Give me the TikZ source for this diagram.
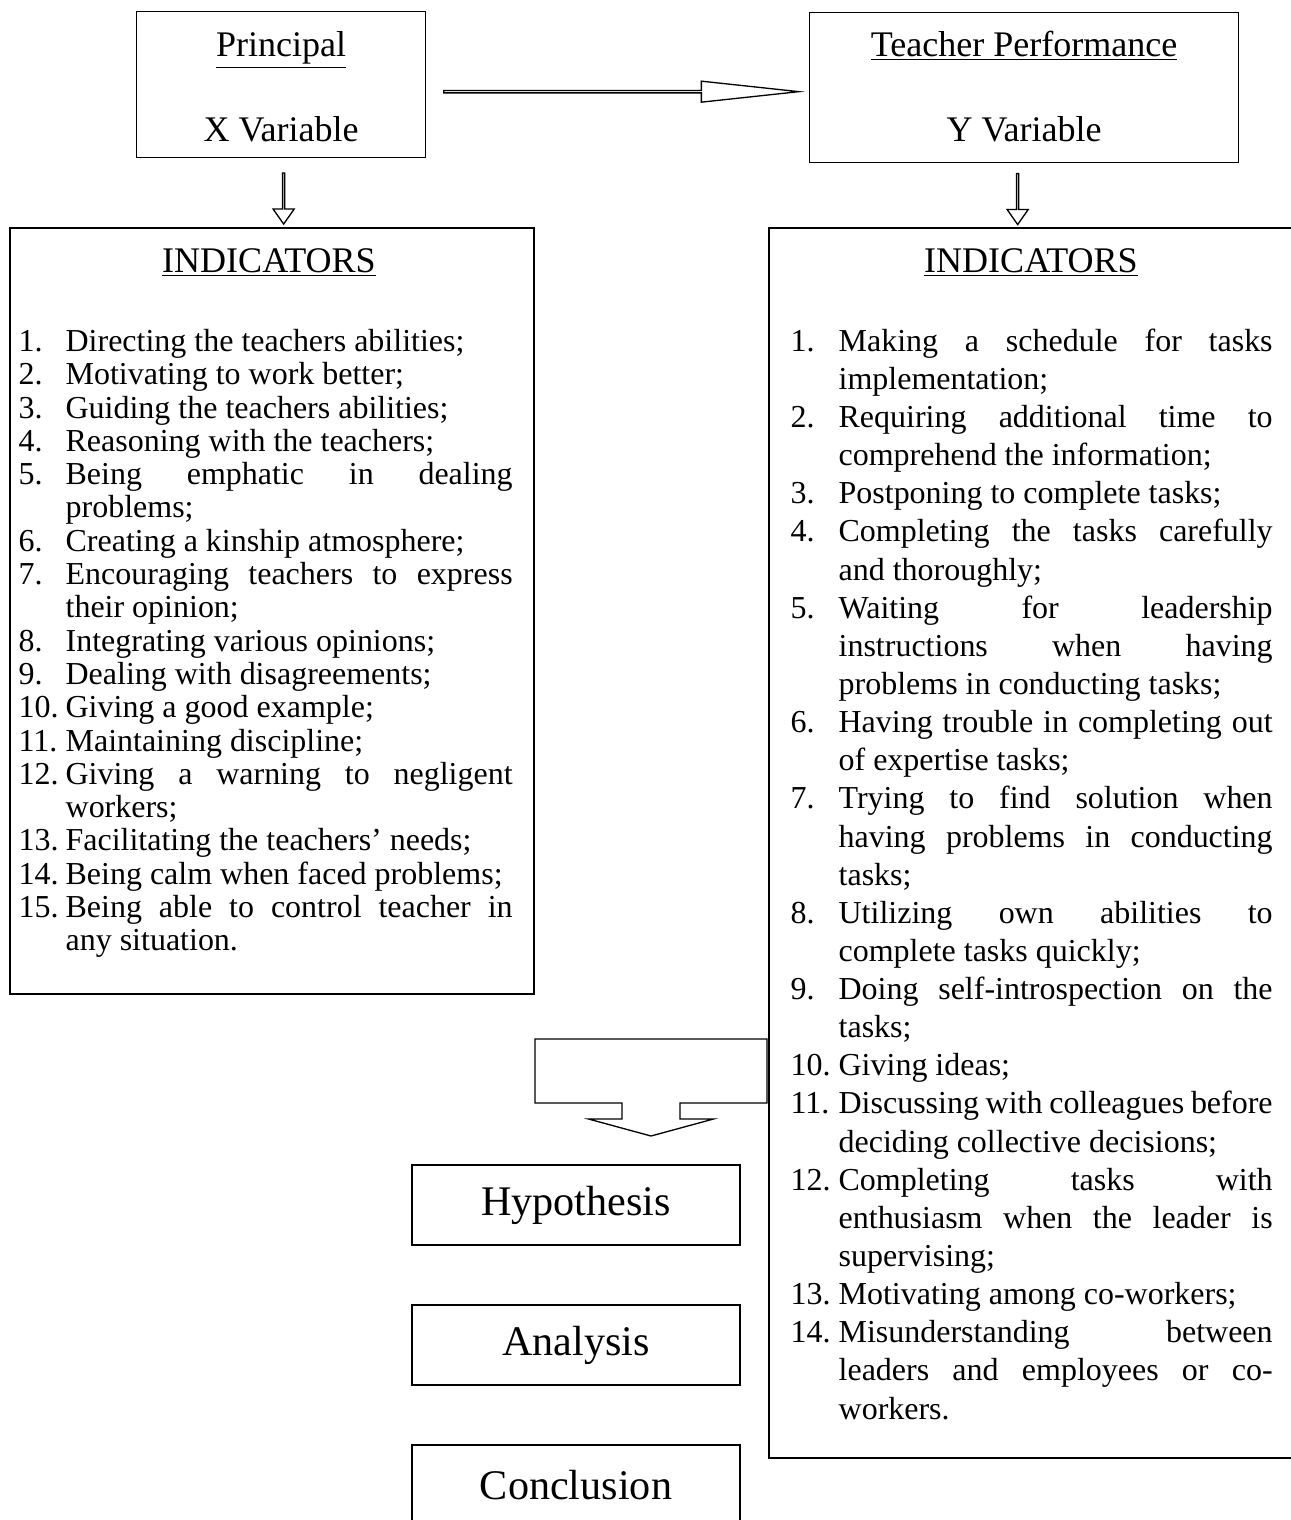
\documentclass[tikz,border=0pt]{standalone}
\usepackage{fontspec}
\setmainfont{Liberation Serif}
\usepackage{tikz}
\usetikzlibrary{shapes.arrows,calc,positioning}

\newlength{\lblw}
\newcommand{\itm}[2]{\par\noindent\hangindent=\lblw\hangafter=1\makebox[\lblw][l]{#1}#2\par}

\begin{document}
\begin{tikzpicture}[line width=0.75pt,
                    frm/.style n args={2}{draw,rectangle,inner sep=0pt,
                    minimum width=#1cm,
                    minimum height=#2cm,
                    anchor=north west},
                    ttl/.style={font=\fontsize{20.5}{24}\selectfont,anchor=base,inner sep=0pt},
                    stp/.style={draw,rectangle,minimum width=6.56cm,minimum height=1.6cm,
                    font=\fontsize{24}{28}\selectfont},
                    dnarr/.style={single arrow,draw,rotate=-90,inner sep=0pt,
                    minimum height=1.02cm,minimum width=0.42cm,
                    single arrow head extend=0.12cm,single arrow tip angle=70},
                    lst/.style n args={2}{anchor=north west,inner sep=0pt,align=justify,
                    text width=#1cm,
                    font=\fontsize{18.2}{#2}\selectfont}]
    \useasboundingbox (0,0) rectangle (25.8,-30.4);

    % variables
    \node[frm={5.78}{2.92}] (px) at (2.72,-0.22) {};
    \node[frm={8.58}{3.0}] (ty) at (16.18,-0.24) {};
    \node[ttl] (pxname) at ($(px.north)+(0,-0.92)$) {\underline{Principal}};
    \node[ttl] (pxvar) at ($(px.north)+(0,-2.62)$) {X Variable};
    \node[ttl] (tyname) at ($(ty.north)+(0,-0.9)$) {\underline{Teacher Performance}};
    \node[ttl] (tyvar) at ($(ty.north)+(0,-2.6)$) {Y Variable};

    \node[single arrow,draw,inner sep=0pt,
          minimum height=7.1cm,minimum width=0.42cm,
          single arrow head extend=0.1cm,single arrow tip angle=12.3] (xy)
          at ($($(px.east)!0.5!(ty.west)$)+(-0.04,-0.11)$) {};

    % indicators
    \node[frm={10.48}{15.32},line width=1.1pt] (lind) at (0.18,-4.54) {};
    \node[frm={10.64}{24.6},line width=1.1pt] (rind) at (15.36,-4.54) {};
    \node[ttl] (ltitle) at ($(lind.north)+(-0.06,-0.92)$) {\underline{INDICATORS}};
    \node[ttl] (rtitle) at ($(rind.north)+(-0.08,-0.92)$) {\underline{INDICATORS}};

    \node[dnarr] (ldown) at ($(px.south)+(0.05,-0.79)$) {};
    \node[dnarr] (rdown) at ($(ty.south)+(-0.13,-0.70)$) {};

    \node[lst={9.88}{18.95pt}] (llist) at (0.36,-6.35) {\setlength{\lblw}{0.94cm}%
        \itm{1.}{Directing the teachers abilities;}
        \itm{2.}{Motivating to work better;}
        \itm{3.}{Guiding the teachers abilities;}
        \itm{4.}{Reasoning with the teachers;}
        \itm{5.}{Being emphatic in dealing\linebreak problems;}
        \itm{6.}{Creating a kinship atmosphere;}
        \itm{7.}{Encouraging teachers to express\linebreak their opinion;}
        \itm{8.}{Integrating various opinions;}
        \itm{9.}{Dealing with disagreements;}
        \itm{10.}{Giving a good example;}
        \itm{11.}{Maintaining discipline;}
        \itm{12.}{Giving a warning to negligent\linebreak workers;}
        \itm{13.}{Facilitating the teachers’ needs;}
        \itm{14.}{Being calm when faced problems;}
        \itm{15.}{Being able to control teacher in\linebreak any situation.}};

    \node[lst={9.64}{21.7pt}] (rlist) at (15.8,-6.25) {\setlength{\lblw}{0.96cm}%
        \itm{1.}{Making a schedule for tasks\linebreak implementation;}
        \itm{2.}{Requiring additional time to\linebreak comprehend the information;}
        \itm{3.}{Postponing to complete tasks;}
        \itm{4.}{Completing the tasks carefully\linebreak and thoroughly;}
        \itm{5.}{Waiting for leadership\linebreak instructions when having\linebreak problems in conducting tasks;}
        \itm{6.}{Having trouble in completing out\linebreak of expertise tasks;}
        \itm{7.}{Trying to find solution when\linebreak having problems in conducting\linebreak tasks;}
        \itm{8.}{Utilizing own abilities to\linebreak complete tasks quickly;}
        \itm{9.}{Doing self-introspection on the\linebreak tasks;}
        \itm{10.}{Giving ideas;}
        \itm{11.}{Discussing with colleagues before\linebreak deciding collective decisions;}
        \itm{12.}{Completing tasks with\linebreak enthusiasm when the leader is\linebreak supervising;}
        \itm{13.}{Motivating among co-workers;}
        \itm{14.}{Misunderstanding between\linebreak leaders and employees or co-\linebreak workers.}};

    % block arrow down to the steps
    \coordinate (blk) at (13.02,-20.78);
    \draw (blk) ++(-2.32,0) -- ++(4.64,0) -- ++(0,-1.28) -- ++(-1.74,0)
        -- ++(0,-0.32) -- ++(0.67,0) -- (13.02,-22.72) -- ++(-1.25,0.34)
        -- ++(0.67,0) -- ++(0,0.32) -- ++(-1.74,0) -- cycle;

    % steps
    \node[stp] (hyp) at (11.52,-24.1) {Hypothesis};
    \node[stp] (ana) at (11.52,-26.9) {Analysis};
    \node[stp] (con) at (11.52,-29.7) {Conclusion};

\end{tikzpicture}
\end{document}
